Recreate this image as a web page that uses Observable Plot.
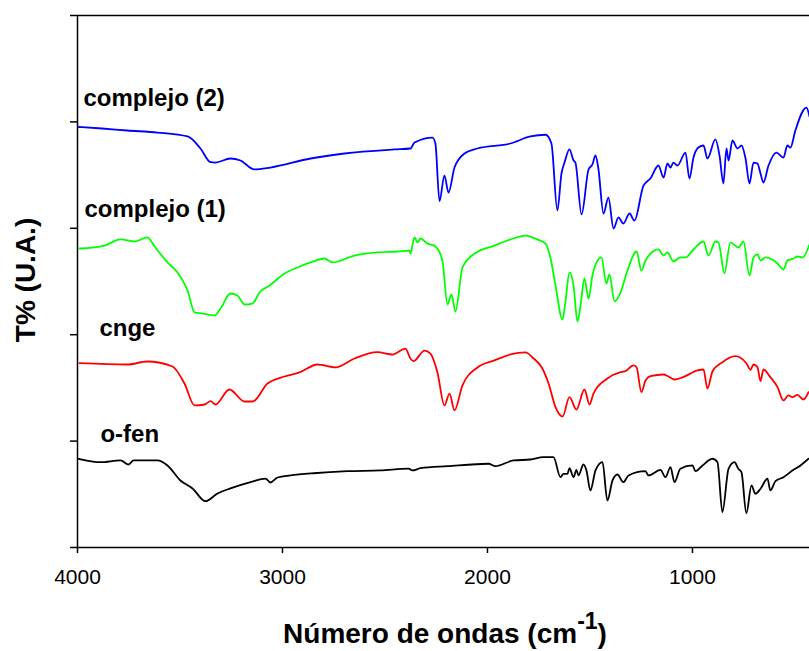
<!DOCTYPE html>
<html><head><meta charset="utf-8">
<script src="https://cdn.jsdelivr.net/npm/d3@7"></script>
<script src="https://cdn.jsdelivr.net/npm/@observablehq/plot@0.6"></script>
<style>body{margin:0;background:#fff;}</style>
</head><body><div id="chart"></div>
<script>
const xTicks = [4000, 3000, 2000, 1000];
const yTicks = [0, 1, 2, 3, 4, 5];
const seriesNames = ["complejo (2)", "complejo (1)", "cnge", "o-fen"];
const seriesColors = ["#0000ff", "#00ff00", "#ff0000", "#000000"];

// [wavenumber (cm-1), T% (arbitrary units, offset)]
const complejo2 = [[3995,3.952],[3880,3.938],[3756,3.919],[3610,3.900],[3463,3.863],[3400,3.750],[3351,3.621],[3327,3.618],[3254,3.656],[3205,3.637],[3137,3.553],[3059,3.571],[2863,3.656],[2698,3.703],[2454,3.741],[2376,3.750],[2356,3.806],[2268,3.853],[2254,3.797],[2234,3.255],[2210,3.496],[2190,3.336],[2161,3.571],[2112,3.703],[2049,3.750],[1888,3.797],[1790,3.863],[1717,3.879],[1688,3.797],[1659,3.167],[1639,3.515],[1624,3.618],[1600,3.741],[1580,3.637],[1571,3.618],[1541,3.130],[1507,3.553],[1488,3.600],[1473,3.684],[1459,3.562],[1434,3.139],[1410,3.289],[1385,2.998],[1361,3.102],[1337,3.045],[1307,3.139],[1283,3.073],[1239,3.402],[1205,3.468],[1166,3.590],[1141,3.477],[1122,3.609],[1107,3.571],[1093,3.618],[1073,3.590],[1034,3.712],[1015,3.468],[995,3.665],[971,3.759],[946,3.778],[927,3.656],[888,3.835],[868,3.684],[849,3.421],[834,3.750],[824,3.637],[805,3.825],[780,3.750],[761,3.778],[741,3.656],[722,3.421],[702,3.618],[683,3.609],[668,3.515],[654,3.430],[629,3.590],[590,3.712],[556,3.665],[537,3.778],[522,3.759],[498,3.919],[444,4.135],[429,4.051]];

const complejo1 = [[3990,2.810],[3868,2.838],[3790,2.895],[3722,2.876],[3659,2.914],[3624,2.829],[3561,2.679],[3512,2.585],[3463,2.415],[3429,2.209],[3390,2.199],[3332,2.180],[3302,2.246],[3254,2.387],[3220,2.368],[3185,2.284],[3146,2.293],[3112,2.397],[3063,2.462],[2990,2.575],[2927,2.632],[2863,2.679],[2795,2.716],[2756,2.679],[2649,2.744],[2537,2.773],[2439,2.782],[2380,2.791],[2376,2.763],[2356,2.914],[2341,2.867],[2327,2.904],[2293,2.857],[2254,2.829],[2220,2.697],[2195,2.284],[2176,2.378],[2156,2.218],[2122,2.632],[2063,2.763],[1966,2.838],[1888,2.895],[1815,2.932],[1756,2.895],[1717,2.857],[1693,2.726],[1668,2.462],[1634,2.143],[1620,2.303],[1600,2.585],[1580,2.462],[1561,2.124],[1546,2.274],[1527,2.528],[1507,2.340],[1488,2.556],[1468,2.679],[1444,2.726],[1420,2.481],[1405,2.566],[1380,2.312],[1351,2.397],[1317,2.603],[1273,2.782],[1249,2.603],[1229,2.697],[1166,2.801],[1141,2.744],[1122,2.773],[1093,2.688],[1059,2.726],[1034,2.726],[995,2.801],[946,2.876],[922,2.744],[888,2.876],[873,2.867],[844,2.575],[815,2.867],[776,2.820],[751,2.876],[722,2.556],[702,2.726],[683,2.754],[668,2.697],[644,2.726],[585,2.669],[556,2.613],[537,2.697],[507,2.716],[488,2.735],[463,2.726],[429,2.848]];

const cnge = [[3990,1.732],[3756,1.720],[3659,1.748],[3537,1.701],[3478,1.541],[3429,1.335],[3380,1.344],[3351,1.375],[3327,1.344],[3259,1.485],[3185,1.372],[3146,1.372],[3073,1.541],[2990,1.607],[2917,1.645],[2829,1.720],[2741,1.692],[2649,1.776],[2537,1.836],[2463,1.814],[2400,1.870],[2376,1.776],[2361,1.751],[2307,1.851],[2278,1.823],[2244,1.645],[2210,1.335],[2185,1.447],[2161,1.288],[2122,1.523],[2049,1.692],[1966,1.758],[1888,1.814],[1815,1.833],[1780,1.786],[1732,1.682],[1702,1.541],[1668,1.319],[1634,1.231],[1600,1.413],[1566,1.297],[1527,1.485],[1502,1.344],[1483,1.447],[1415,1.588],[1351,1.648],[1327,1.657],[1288,1.711],[1273,1.695],[1249,1.460],[1229,1.570],[1205,1.610],[1141,1.626],[1117,1.607],[1088,1.579],[1049,1.598],[976,1.664],[946,1.673],[927,1.494],[902,1.657],[854,1.742],[790,1.798],[766,1.783],[737,1.732],[717,1.670],[702,1.720],[683,1.695],[668,1.563],[654,1.673],[620,1.601],[585,1.507],[556,1.382],[532,1.429],[512,1.413],[488,1.435],[459,1.391],[434,1.460]];

const ofen = [[3995,0.834],[3888,0.802],[3790,0.818],[3751,0.780],[3727,0.818],[3610,0.818],[3561,0.771],[3498,0.630],[3439,0.555],[3376,0.435],[3317,0.508],[3254,0.555],[3156,0.614],[3083,0.648],[3059,0.611],[3024,0.658],[2961,0.677],[2849,0.698],[2683,0.717],[2522,0.724],[2385,0.742],[2366,0.724],[2327,0.745],[2195,0.764],[1995,0.787],[1961,0.764],[1873,0.818],[1790,0.827],[1727,0.849],[1678,0.849],[1644,0.661],[1629,0.692],[1610,0.692],[1600,0.745],[1580,0.661],[1566,0.730],[1556,0.677],[1532,0.780],[1517,0.724],[1498,0.536],[1473,0.724],[1439,0.802],[1415,0.442],[1390,0.630],[1366,0.686],[1337,0.614],[1312,0.677],[1229,0.717],[1215,0.677],[1156,0.730],[1132,0.661],[1107,0.755],[1088,0.614],[1059,0.740],[1000,0.771],[985,0.717],[951,0.771],[902,0.834],[878,0.802],[854,0.332],[824,0.740],[795,0.802],[776,0.740],[761,0.708],[737,0.322],[712,0.583],[693,0.505],[668,0.552],[634,0.646],[620,0.536],[595,0.623],[556,0.661],[507,0.730],[473,0.771],[434,0.834]];

const seriesData = [complejo2, complejo1, cnge, ofen];
const labelWn = [3971, 3966, 3893, 3888];
const labelT = [4.145, 3.104, 1.992, 0.996];

const rows = seriesData.flatMap((arr, i) => arr.map(([wn, t]) => ({series: seriesNames[i], wn, t})));
const labels = seriesNames.map((name, i) => ({name, wn: labelWn[i], t: labelT[i]}));

const plot = Plot.plot({
  width: 809,
  height: 651,
  marginLeft: 77,
  marginRight: 0,
  marginTop: 15,
  marginBottom: 104,
  style: {fontFamily: "'Liberation Sans', Arial, sans-serif", background: "white", color: "black"},
  x: {domain: [4000, 429]},
  y: {domain: [0, 5]},
  color: {domain: seriesNames, range: seriesColors},
  marks: [
    Plot.line(rows, {x: "wn", y: "t", z: "series", stroke: "series", strokeWidth: 1.8, curve: "monotone-x", clip: true}),
    Plot.ruleY([0, 5], {stroke: "black", strokeWidth: 1.5}),
    Plot.ruleX([4000], {stroke: "black", strokeWidth: 1.5}),
    Plot.axisY({ticks: yTicks, tickSize: 7, tickFormat: () => "", label: null, strokeWidth: 1.5}),
    Plot.axisX({ticks: xTicks, tickSize: 6, tickPadding: 16, fontSize: 21, label: null, tickFormat: d => String(d), strokeWidth: 1.5}),
    Plot.text(labels, {x: "wn", y: "t", text: "name", textAnchor: "start", lineAnchor: "bottom", fontSize: 24, fontWeight: "bold", fill: "black"})
  ]
});

const svg = d3.select(plot);
svg.append("text")
  .attr("transform", "translate(35,280) rotate(-90)")
  .attr("text-anchor", "middle")
  .attr("font-size", 28)
  .attr("font-weight", "bold")
  .attr("fill", "black")
  .text("T% (U.A.)");
const xt = svg.append("text")
  .attr("x", 445).attr("y", 643)
  .attr("text-anchor", "middle")
  .attr("font-size", 28)
  .attr("font-weight", "bold")
  .attr("fill", "black");
xt.append("tspan").text("Número de ondas (cm");
xt.append("tspan").attr("dy", -14).attr("font-size", 23).text("-1");
xt.append("tspan").attr("dy", 14).text(")");

document.getElementById("chart").appendChild(plot);
</script>
</body></html>
